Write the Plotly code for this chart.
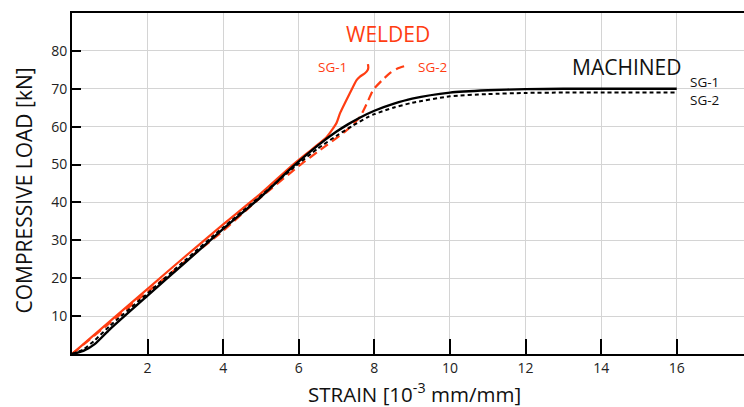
import plotly.graph_objects as go

# Machined SG-1 (solid black)
mach1_x = [0, 0.3, 0.6, 1.0, 2.0, 3.0, 4.0, 5.0, 5.85, 6.5, 7.0, 7.3, 7.6, 8.0, 8.5, 9.0, 10.0, 11.0, 12.0, 13.0, 14.0, 16.0]
mach1_y = [0, 0.8, 2.6, 6.5, 15.4, 24.2, 33.0, 41.5, 49.5, 55.0, 58.7, 60.6, 62.3, 64.2, 66.0, 67.4, 69.0, 69.6, 69.9, 70.0, 70.0, 70.0]
# Machined SG-2 (dashed black)
mach2_x = [0, 0.3, 0.6, 1.0, 2.0, 3.0, 4.0, 5.0, 5.9, 6.5, 7.0, 7.4, 7.8, 8.0, 8.5, 9.0, 10.0, 11.0, 12.0, 13.0, 14.0, 16.0]
mach2_y = [0, 1.2, 3.6, 7.4, 16.0, 24.8, 33.4, 41.8, 49.5, 54.2, 57.6, 60.1, 62.4, 63.3, 65.0, 66.3, 68.0, 68.6, 68.9, 69.0, 69.0, 69.0]
# Welded SG-1 (solid red)
weld1_x = [0, 1.0, 2.0, 3.0, 4.0, 5.0, 5.85, 6.38, 6.74, 7.0, 7.09, 7.35, 7.53, 7.62, 7.75, 7.82, 7.84, 7.83]
weld1_y = [0, 8.6, 17.2, 25.8, 34.2, 42.4, 50.0, 54.3, 57.3, 61.0, 63.5, 68.8, 72.3, 73.2, 74.1, 74.9, 75.6, 76.5]
# Welded SG-2 (dashed red)
weld2_x = [0, 1.0, 2.0, 3.0, 4.0, 4.84, 6.05, 6.56, 7.27, 7.62, 7.8, 7.97, 8.2, 8.41, 8.6, 8.81]
weld2_y = [0, 8.2, 16.4, 24.5, 32.5, 40.0, 50.0, 53.8, 59.1, 62.6, 66.1, 69.7, 72.2, 74.1, 75.3, 76.0]

x_ticks = [2, 4, 6, 8, 10, 12, 14, 16]
y_ticks = [10, 20, 30, 40, 50, 60, 70, 80]

RED = "#FF3D12"
FONT = "Open Sans"

fig = go.Figure()
fig.add_trace(go.Scatter(x=weld1_x, y=weld1_y, mode="lines", line=dict(color=RED, width=2.2, shape="spline", smoothing=0.6), showlegend=False))
fig.add_trace(go.Scatter(x=weld2_x, y=weld2_y, mode="lines", line=dict(color=RED, width=2.2, dash="9px,5px", shape="spline", smoothing=0.6), showlegend=False))
fig.add_trace(go.Scatter(x=mach2_x, y=mach2_y, mode="lines", line=dict(color="black", width=2.0, dash="4px,3px", shape="spline", smoothing=0.6), showlegend=False))
fig.add_trace(go.Scatter(x=mach1_x, y=mach1_y, mode="lines", line=dict(color="black", width=2.4, shape="spline", smoothing=0.6), showlegend=False))

fig.update_layout(
    width=744, height=407,
    margin=dict(l=72, r=0, t=13, b=53),
    paper_bgcolor="white", plot_bgcolor="white",
    font=dict(family=FONT, color="#222222"),
    xaxis=dict(
        range=[0, 17.78], tickvals=x_ticks, ticktext=[str(v) for v in x_ticks],
        showgrid=True, gridcolor="#D4D4D4", gridwidth=1,
        showline=True, linecolor="black", linewidth=2, mirror=True,
        ticks="inside", ticklen=15, tickwidth=2, tickcolor="black",
        tickfont=dict(size=14, color="#222222"),
        zeroline=False,
    ),
    yaxis=dict(
        range=[0, 90], tickvals=y_ticks, ticktext=[str(v) for v in y_ticks],
        showgrid=True, gridcolor="#D4D4D4", gridwidth=1,
        showline=True, linecolor="black", linewidth=2,
        ticks="inside", ticklen=9, tickwidth=2, tickcolor="black",
        tickfont=dict(size=14, color="#222222"),
        zeroline=False,
    ),
    annotations=[
        dict(xref="paper", yref="paper", x=0.509, y=-0.114, xanchor="center", yanchor="middle",
             text="STRAIN [10<sup>-3</sup> mm/mm]", showarrow=False, font=dict(size=20.5, color="#111111")),
        dict(xref="paper", yref="paper", x=-0.0722, y=0.481, xanchor="center", yanchor="middle", textangle=-90,
             text="COMPRESSIVE LOAD [kN]", showarrow=False, font=dict(size=21, color="#111111")),
        dict(x=8.35, y=84.5, text="WELDED", showarrow=False, font=dict(size=21, color=RED)),
        dict(x=6.9, y=75.8, text="SG-1", showarrow=False, font=dict(size=13.5, color=RED)),
        dict(x=9.55, y=75.8, text="SG-2", showarrow=False, font=dict(size=13.5, color=RED)),
        dict(x=14.67, y=75.8, text="MACHINED", showarrow=False, font=dict(size=21, color="#111111")),
        dict(x=16.73, y=71.8, text="SG-1", showarrow=False, font=dict(size=13.5, color="#111111")),
        dict(x=16.73, y=67.0, text="SG-2", showarrow=False, font=dict(size=13.5, color="#111111")),
    ],
)

fig.write_html("out.html")
